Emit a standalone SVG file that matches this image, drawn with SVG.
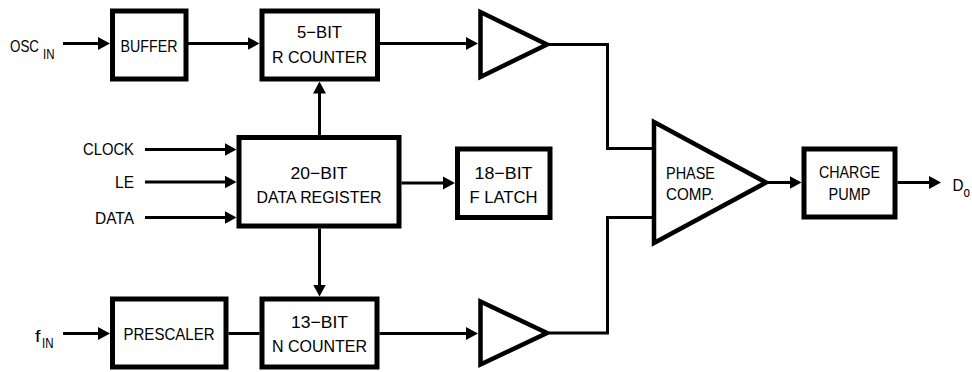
<svg xmlns="http://www.w3.org/2000/svg" width="972" height="372" viewBox="0 0 972 372">
<style>
.box{fill:#fff;stroke:#000;stroke-width:5}
.amp{fill:#fff;stroke:#000;stroke-width:4.5;stroke-linejoin:miter}
.ln{fill:none;stroke:#000;stroke-width:3}
.ar{marker-end:url(#ah)}
.t{font-family:"Liberation Sans",Arial,sans-serif;font-size:17px;fill:#000}
.m{text-anchor:middle}
.e{text-anchor:end}
.s{font-size:14px}
</style>
<defs>
<marker id="ah" markerUnits="userSpaceOnUse" markerWidth="12" markerHeight="14" refX="6" refY="7" orient="auto" viewBox="0 0 12 14">
<path d="M0,0.5 L12,7 L0,13.5 z" fill="#000"/>
</marker>
</defs>
<rect width="972" height="372" fill="#fff"/>
<g id="connectors">
<line class="ln ar" x1="63" y1="43.5" x2="104" y2="43.5"/>
<line class="ln ar" x1="188" y1="43.5" x2="253.5" y2="43.5"/>
<line class="ln ar" x1="380" y1="43.5" x2="472" y2="43.5"/>
<polyline class="ln" points="549,44.5 607.5,44.5 607.5,148.5 654,148.5"/>
<polyline class="ln" points="549,333 607.5,333 607.5,217.5 654,217.5"/>
<line class="ln ar" x1="319.5" y1="135" x2="319.5" y2="87.5"/>
<line class="ln ar" x1="319.5" y1="228.5" x2="319.5" y2="290.5"/>
<line class="ln ar" x1="145" y1="149.5" x2="230.5" y2="149.5"/>
<line class="ln ar" x1="145" y1="182" x2="230.5" y2="182"/>
<line class="ln ar" x1="145" y1="217.5" x2="230.5" y2="217.5"/>
<line class="ln ar" x1="401.5" y1="183" x2="449" y2="183"/>
<line class="ln ar" x1="768" y1="182.5" x2="795.5" y2="182.5"/>
<line class="ln ar" x1="897.5" y1="182.5" x2="935" y2="182.5"/>
<line class="ln ar" x1="63" y1="333.5" x2="104" y2="333.5"/>
<line class="ln" x1="228.5" y1="333.5" x2="259.5" y2="333.5"/>
<line class="ln ar" x1="379.5" y1="333.5" x2="472" y2="333.5"/>
</g>
<g id="osc-in">
<text class="t" y="51.5"><tspan x="10" textLength="29" lengthAdjust="spacingAndGlyphs">OSC</tspan><tspan class="s" x="43" y="58.5" textLength="11.5" lengthAdjust="spacingAndGlyphs">IN</tspan></text>
</g>
<g id="f-in">
<text class="t" y="341.5"><tspan x="35" textLength="5.5" lengthAdjust="spacingAndGlyphs">f</tspan><tspan class="s" x="42" y="348" textLength="11.5" lengthAdjust="spacingAndGlyphs">IN</tspan></text>
</g>
<g id="clock"><text class="t e" x="134" y="155" textLength="51" lengthAdjust="spacingAndGlyphs">CLOCK</text></g>
<g id="le"><text class="t e" x="134" y="188.3" textLength="19" lengthAdjust="spacingAndGlyphs">LE</text></g>
<g id="data"><text class="t e" x="134" y="224.3" textLength="39" lengthAdjust="spacingAndGlyphs">DATA</text></g>
<g id="buffer">
<rect class="box" x="112.5" y="11" width="73.5" height="68"/>
<text class="t m" x="149" y="51.5" textLength="57" lengthAdjust="spacingAndGlyphs">BUFFER</text>
</g>
<g id="r-counter">
<rect class="box" x="262" y="11" width="115.5" height="68"/>
<text class="t m" x="319.5" y="38" textLength="45" lengthAdjust="spacingAndGlyphs">5−BIT</text>
<text class="t m" x="319.5" y="63" textLength="95" lengthAdjust="spacingAndGlyphs">R COUNTER</text>
</g>
<g id="data-register">
<rect class="box" x="239" y="137.5" width="160" height="88.5"/>
<text class="t m" x="319" y="179.3" textLength="57" lengthAdjust="spacingAndGlyphs">20−BIT</text>
<text class="t m" x="319" y="202.7" textLength="125" lengthAdjust="spacingAndGlyphs">DATA REGISTER</text>
</g>
<g id="f-latch">
<rect class="box" x="457.5" y="149" width="92.5" height="68.5"/>
<text class="t m" x="503.5" y="179.3" textLength="58" lengthAdjust="spacingAndGlyphs">18−BIT</text>
<text class="t m" x="503.5" y="202.7" textLength="68" lengthAdjust="spacingAndGlyphs">F LATCH</text>
</g>
<g id="prescaler">
<rect class="box" x="112.5" y="299" width="113.5" height="68"/>
<text class="t m" x="169" y="340" textLength="91" lengthAdjust="spacingAndGlyphs">PRESCALER</text>
</g>
<g id="n-counter">
<rect class="box" x="262" y="299" width="115" height="68"/>
<text class="t m" x="319.5" y="328.3" textLength="57" lengthAdjust="spacingAndGlyphs">13−BIT</text>
<text class="t m" x="319.5" y="351.7" textLength="95" lengthAdjust="spacingAndGlyphs">N COUNTER</text>
</g>
<g id="amp-r">
<polygon class="amp" points="480.5,12 480.5,77 547,44.5"/>
</g>
<g id="amp-n">
<polygon class="amp" points="480.5,301.5 480.5,364.5 547,333"/>
</g>
<g id="phase-comp">
<polygon class="amp" points="654,122 654,243 766,182.5"/>
<text class="t" x="666" y="179" textLength="49" lengthAdjust="spacingAndGlyphs">PHASE</text>
<text class="t" x="666" y="200" textLength="48" lengthAdjust="spacingAndGlyphs">COMP.</text>
</g>
<g id="charge-pump">
<rect class="box" x="804" y="149" width="91" height="68"/>
<text class="t m" x="849.5" y="177.7" textLength="61" lengthAdjust="spacingAndGlyphs">CHARGE</text>
<text class="t m" x="849.5" y="200" textLength="42" lengthAdjust="spacingAndGlyphs">PUMP</text>
</g>
<g id="d-out">
<text class="t" y="190.7"><tspan x="952.5" textLength="11" lengthAdjust="spacingAndGlyphs">D</tspan><tspan class="s" x="963.5" y="197" textLength="6.5" lengthAdjust="spacingAndGlyphs">o</tspan></text>
</g>
</svg>
